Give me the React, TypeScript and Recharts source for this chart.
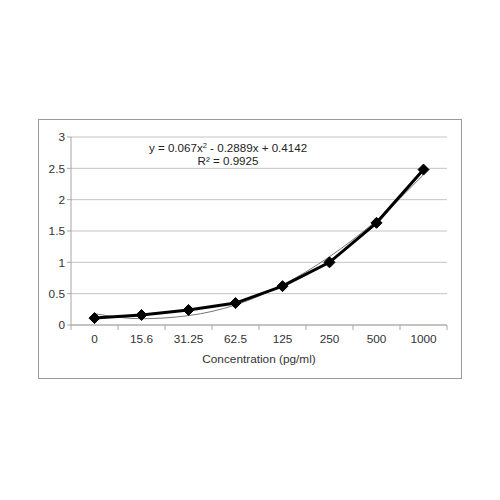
import React from "react";
import { ComposedChart, Line, XAxis, YAxis, CartesianGrid } from "recharts";

const concentrations = ["0", "15.6", "31.25", "62.5", "125", "250", "500", "1000"];
const absorbance = [0.11, 0.16, 0.24, 0.35, 0.62, 1.0, 1.63, 2.48];
// polynomial trendline at each category
const trend = [0.18, 0.1, 0.15, 0.32, 0.64, 1.09, 1.67, 2.4];
const yTicks = [0, 0.5, 1, 1.5, 2, 2.5, 3];

const data = concentrations.map((c, i) => ({ name: c, value: absorbance[i], fit: trend[i] }));

const FONT = '"Liberation Sans", Arial, sans-serif';
const BAND = 47;

function Diamond(props: any) {
  const { cx, cy } = props;
  if (cx == null || cy == null) return null;
  const r = 5.5;
  return <polygon points={`${cx},${cy - r} ${cx + r},${cy} ${cx},${cy + r} ${cx - r},${cy}`} fill="#000" stroke="#000" />;
}

function CatTick(props: any) {
  const { x, y, payload, index, visibleTicksCount } = props;
  const top = y - 8;
  return (
    <g>
      <line x1={x - BAND / 2} x2={x - BAND / 2} y1={top} y2={top + 5} stroke="#a6a6a6" />
      {index === visibleTicksCount - 1 && (
        <line x1={x + BAND / 2} x2={x + BAND / 2} y1={top} y2={top + 5} stroke="#a6a6a6" />
      )}
      <text x={x} y={top + 18} textAnchor="middle" fill="#333" fontSize={11.8} fontFamily={FONT}>
        {payload.value}
      </text>
    </g>
  );
}

export default function App() {
  return (
    <div style={{ position: "relative", width: 484, height: 484 }}>
      <div
        style={{
          position: "absolute",
          left: 30,
          top: 111,
          width: 424,
          height: 260,
          boxSizing: "border-box",
          border: "1px solid #9a9a9a",
          background: "#fff",
        }}
      >
        <ComposedChart width={422} height={258} data={data} margin={{ top: 17, right: 14, bottom: 0, left: 0 }}>
          <CartesianGrid vertical={false} stroke="#c4c4c4" />
          <XAxis
            dataKey="name"
            scale="band"
            height={53}
            axisLine={{ stroke: "#a6a6a6" }}
            tickLine={false}
            tick={<CatTick />}
            interval={0}
            label={{ value: "Concentration (pg/ml)", position: "insideBottom", offset: 15, fill: "#333", fontSize: 11.8, fontFamily: FONT }}
          />
          <YAxis
            width={32}
            domain={[0, 3]}
            ticks={yTicks}
            axisLine={{ stroke: "#a6a6a6" }}
            tickLine={{ stroke: "#a6a6a6" }}
            tickSize={4}
            tick={{ fill: "#333", fontSize: 11.8, fontFamily: FONT }}
          />
          <Line dataKey="fit" type="monotone" stroke="#777" strokeWidth={1} dot={false} isAnimationActive={false} />
          <Line dataKey="value" type="linear" stroke="#000" strokeWidth={3} dot={<Diamond />} isAnimationActive={false} />
        </ComposedChart>
        <div
          style={{
            position: "absolute",
            left: 89,
            top: 21,
            width: 200,
            textAlign: "center",
            fontFamily: FONT,
            fontSize: 11.6,
            color: "#222",
            whiteSpace: "nowrap",
            lineHeight: "13px",
          }}
        >
          <div>
            y = 0.067x<sup style={{ fontSize: 7.5, verticalAlign: "4px", lineHeight: 0 }}>2</sup> - 0.2889x + 0.4142
          </div>
          <div>R² = 0.9925</div>
        </div>
      </div>
    </div>
  );
}
